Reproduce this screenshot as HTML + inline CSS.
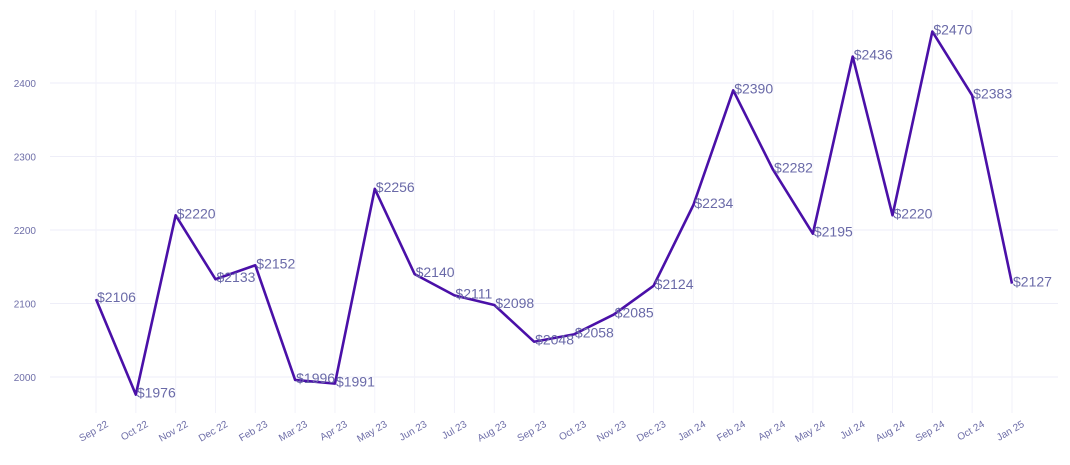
<!DOCTYPE html>
<html><head><meta charset="utf-8"><style>
html,body{margin:0;padding:0;background:#fff;}
svg{display:block;font-family:"Liberation Sans",sans-serif;}
</style></head><body>
<svg id="chart" width="1070" height="465" viewBox="0 0 1070 465">
<g id="grid"></g>
<g id="yaxis"></g>
<g id="xaxis"></g>
<path id="line" fill="none" stroke="#4a10a8" stroke-width="2.6" stroke-linejoin="round"></path>
<g id="labels"></g>
</svg>
<script>
const categories=["Sep 22","Oct 22","Nov 22","Dec 22","Feb 23","Mar 23","Apr 23","May 23","Jun 23","Jul 23","Aug 23","Sep 23","Oct 23","Nov 23","Dec 23","Jan 24","Feb 24","Apr 24","May 24","Jul 24","Aug 24","Sep 24","Oct 24","Jan 25"];
const values=[2106,1976,2220,2133,2152,1996,1991,2256,2140,2111,2098,2048,2058,2085,2124,2234,2390,2282,2195,2436,2220,2470,2383,2127];
const yTicks=[2000,2100,2200,2300,2400];
const NS="http://www.w3.org/2000/svg";
const x0=96,x1=1012;
function xs(i){return x0+(x1-x0)*i/(categories.length-1);}
function ys(v){return 377-(v-2000)*(294/400);}
function mk(tag,attrs,parent){const e=document.createElementNS(NS,tag);for(const k in attrs)e.setAttribute(k,attrs[k]);parent.appendChild(e);return e;}
const grid=document.getElementById('grid'),ya=document.getElementById('yaxis'),xa=document.getElementById('xaxis'),lab=document.getElementById('labels');
yTicks.forEach(t=>{
 const l=mk('line',{x1:50,x2:1058,y1:ys(t),y2:ys(t),stroke:'#eeeef8','stroke-width':1},grid);
 
 
 const tx=mk('text',{x:36,y:ys(t)+4,'text-anchor':'end','font-size':10,fill:'#6e6ea8'},ya);
 tx.textContent=t;
 
 
});
categories.forEach((c,i)=>{
 const x=xs(i);
 const l=mk('line',{x1:x,x2:x,y1:10,y2:413,stroke:'#f2f2fa','stroke-width':1},grid);
 
 
 const tx=mk('text',{x:x+13,y:426,'text-anchor':'end','font-size':10,fill:'#6e6ea8',transform:`rotate(-30 ${x+13} 426)`},xa);
 tx.textContent=c;
 
 
});
document.getElementById('line').setAttribute('d',values.map((v,i)=>(i?'L':'M')+xs(i)+' '+ys(v)).join(' '));
values.forEach((v,i)=>{
 const tx=mk('text',{x:xs(i)+1,y:ys(v)+3,'font-size':14,fill:'#6a6aa8'},lab);
 tx.textContent='$'+v;
 
 
});
</script>
</body></html>
